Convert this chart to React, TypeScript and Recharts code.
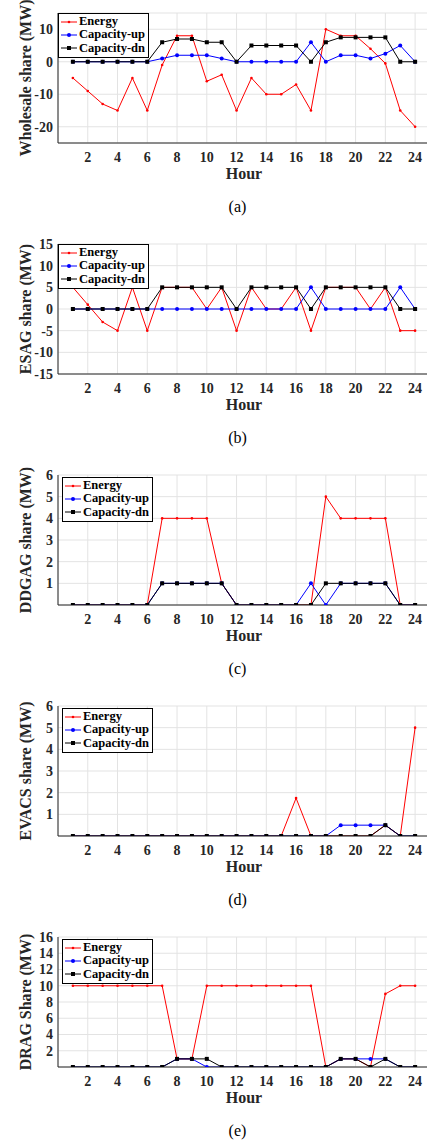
import { LineChart, Line, XAxis, YAxis, CartesianGrid, Legend } from 'recharts';

const hours = [1, 2, 3, 4, 5, 6, 7, 8, 9, 10, 11, 12, 13, 14, 15, 16, 17, 18, 19, 20, 21, 22, 23, 24];
const hourTicks = [2, 4, 6, 8, 10, 12, 14, 16, 18, 20, 22, 24];

// (a) wholesale
const wsEnergy = [-5, -9, -13, -15, -5, -15, -1, 8, 8, -6, -4, -15, -5, -10, -10, -7, -15, 10, 8, 8, 4, -0.5, -15, -20];
const wsUp = [0, 0, 0, 0, 0, 0, 1, 2, 2, 2, 1, 0, 0, 0, 0, 0, 6, 0, 2, 2, 1, 2.5, 5, 0];
const wsDn = [0, 0, 0, 0, 0, 0, 6, 7, 7, 6, 6, 0, 5, 5, 5, 5, 0, 6, 7.5, 7.5, 7.5, 7.5, 0, 0];

// (b) ESAG
const esEnergy = [5, 1, -3, -5, 5, -5, 5, 5, 5, 0, 5, -5, 5, 0, 0, 5, -5, 5, 5, 5, 0, 5, -5, -5];
const esUp = [0, 0, 0, 0, 0, 0, 0, 0, 0, 0, 0, 0, 0, 0, 0, 0, 5, 0, 0, 0, 0, 0, 5, 0];
const esDn = [0, 0, 0, 0, 0, 0, 5, 5, 5, 5, 5, 0, 5, 5, 5, 5, 0, 5, 5, 5, 5, 5, 0, 0];

// (c) DDGAG
const ddEnergy = [0, 0, 0, 0, 0, 0, 4, 4, 4, 4, 1, 0, 0, 0, 0, 0, 0, 5, 4, 4, 4, 4, 0, 0];
const ddUp = [0, 0, 0, 0, 0, 0, 1, 1, 1, 1, 1, 0, 0, 0, 0, 0, 1, 0, 1, 1, 1, 1, 0, 0];
const ddDn = [0, 0, 0, 0, 0, 0, 1, 1, 1, 1, 1, 0, 0, 0, 0, 0, 0, 1, 1, 1, 1, 1, 0, 0];

// (d) EVACS
const evEnergy = [0, 0, 0, 0, 0, 0, 0, 0, 0, 0, 0, 0, 0, 0, 0, 1.75, 0, 0, 0, 0, 0, 0.5, 0, 5];
const evUp = [0, 0, 0, 0, 0, 0, 0, 0, 0, 0, 0, 0, 0, 0, 0, 0, 0, 0, 0.5, 0.5, 0.5, 0.5, 0, 0];
const evDn = [0, 0, 0, 0, 0, 0, 0, 0, 0, 0, 0, 0, 0, 0, 0, 0, 0, 0, 0, 0, 0, 0.5, 0, 0];

// (e) DRAG
const drEnergy = [10, 10, 10, 10, 10, 10, 10, 1, 1, 10, 10, 10, 10, 10, 10, 10, 10, 0, 1, 1, 0, 9, 10, 10];
const drUp = [0, 0, 0, 0, 0, 0, 0, 1, 1, 0, 0, 0, 0, 0, 0, 0, 0, 0, 1, 1, 1, 1, 0, 0];
const drDn = [0, 0, 0, 0, 0, 0, 0, 1, 1, 1, 0, 0, 0, 0, 0, 0, 0, 0, 1, 1, 0, 1, 0, 0];

const FONT = '"Liberation Serif", "Times New Roman", serif';
const AXIS = '#262626';

const rows = (e: number[], u: number[], d: number[]) =>
  hours.map((h, i) => ({ hour: h, energy: e[i], up: u[i], dn: d[i] }));

const SquareDot = (props: any) => {
  const { cx, cy, index } = props;
  if (cx == null || cy == null) return <g key={`sq-${index}`} />;
  return <rect key={`sq-${index}`} x={cx - 2} y={cy - 2} width={4} height={4} fill="#000" />;
};

const legendItems = [
  { name: 'Energy', color: '#ff0000', kind: 'dot' },
  { name: 'Capacity-up', color: '#0000ff', kind: 'circle' },
  { name: 'Capacity-dn', color: '#000000', kind: 'square' },
];

const LegendBox = () => (
  <div
    style={{
      border: '1px solid #000',
      background: '#fff',
      padding: '1px 3px 2px 1px',
      fontFamily: FONT,
      fontWeight: 'bold',
      fontSize: 12.5,
      lineHeight: '13.3px',
      color: '#000',
      whiteSpace: 'nowrap',
    }}
  >
    {legendItems.map((it) => (
      <div key={it.name} style={{ display: 'flex', alignItems: 'center' }}>
        <svg width={18} height={8} style={{ marginRight: 1 }}>
          <line x1={1} y1={4} x2={17} y2={4} stroke={it.color} strokeWidth={1} />
          {it.kind === 'dot' && <circle cx={9} cy={4} r={1.3} fill={it.color} />}
          {it.kind === 'circle' && <circle cx={9} cy={4} r={2} fill={it.color} />}
          {it.kind === 'square' && <rect x={7} y={2} width={4} height={4} fill={it.color} />}
        </svg>
        <span>{it.name}</span>
      </div>
    ))}
  </div>
);

type PanelProps = {
  index: number;
  energy: number[];
  up: number[];
  dn: number[];
  ylabel: string;
  yDomain: [number, number];
  yTicks: number[];
  caption: string;
  inset: number;
};

const Panel = ({ index, energy, up, dn, ylabel, yDomain, yTicks, caption, inset }: PanelProps) => (
  <div style={{ position: 'absolute', left: 0, top: 231 * index, width: 430, height: 231 }}>
    <LineChart
      width={430}
      height={193}
      data={rows(energy, up, dn)}
      margin={{ top: 13, right: 0, bottom: 0, left: 8 }}
    >
      <CartesianGrid stroke="#e3e3e3" strokeWidth={1} />
      <XAxis
        dataKey="hour"
        type="number"
        domain={[0, 25]}
        ticks={hourTicks}
        interval={0}
        allowDataOverflow
        height={50}
        tickSize={0}
        tickMargin={9}
        stroke={AXIS}
        tick={{ fill: AXIS, fontFamily: FONT, fontWeight: 'bold', fontSize: 14 }}
        label={{
          value: 'Hour',
          position: 'insideBottom',
          offset: 14,
          fill: AXIS,
          fontFamily: FONT,
          fontWeight: 'bold',
          fontSize: 16,
        }}
      />
      <XAxis
        xAxisId="top"
        orientation="top"
        dataKey="hour"
        type="number"
        domain={[0, 25]}
        ticks={hourTicks}
        interval={0}
        height={0}
        mirror
        tickSize={3}
        stroke={AXIS}
        tickFormatter={() => ''}
      />
      <YAxis
        width={50}
        domain={yDomain}
        ticks={yTicks}
        interval={0}
        allowDataOverflow
        tickSize={0}
        tickMargin={5}
        stroke={AXIS}
        tick={{ fill: AXIS, fontFamily: FONT, fontWeight: 'bold', fontSize: 14 }}
        label={{
          value: ylabel,
          angle: -90,
          position: 'center',
          dx: -8,
          fill: AXIS,
          fontFamily: FONT,
          fontWeight: 'bold',
          fontSize: 16,
        }}
      />
      <Legend
        layout="horizontal"
        verticalAlign="middle"
        align="center"
        wrapperStyle={{ top: 13 + inset / 2, left: 58 + inset, width: 'auto', height: 'auto' }}
        content={() => <LegendBox />}
      />
      <Line
        dataKey="energy"
        name="Energy"
        stroke="#ff0000"
        strokeWidth={1}
        dot={{ r: 1.3, fill: '#ff0000', stroke: '#ff0000', strokeWidth: 0 }}
        isAnimationActive={false}
      />
      <Line
        dataKey="up"
        name="Capacity-up"
        stroke="#0000ff"
        strokeWidth={1}
        dot={{ r: 2, fill: '#0000ff', stroke: '#0000ff', strokeWidth: 0 }}
        isAnimationActive={false}
      />
      <Line
        dataKey="dn"
        name="Capacity-dn"
        stroke="#000000"
        strokeWidth={1}
        dot={SquareDot}
        isAnimationActive={false}
      />
    </LineChart>
    <div
      style={{
        height: 28,
        lineHeight: '28px',
        marginLeft: 52,
        width: 371,
        textAlign: 'center',
        fontFamily: FONT,
        fontSize: 16,
        color: '#000',
      }}
    >
      {caption}
    </div>
  </div>
);

export default function App() {
  return (
    <div style={{ position: 'relative', width: 427, height: 1146 }}>
      <style>{'body{margin:0;overflow:hidden}'}</style>
      <Panel index={0} energy={wsEnergy} up={wsUp} dn={wsDn} ylabel="Wholesale share (MW)"
        yDomain={[-25, 15]} yTicks={[-20, -10, 0, 10]} caption="(a)" inset={0} />
      <Panel index={1} energy={esEnergy} up={esUp} dn={esDn} ylabel="ESAG share (MW)"
        yDomain={[-15, 15]} yTicks={[-15, -10, -5, 0, 5, 10, 15]} caption="(b)" inset={0} />
      <Panel index={2} energy={ddEnergy} up={ddUp} dn={ddDn} ylabel="DDGAG share (MW)"
        yDomain={[0, 6]} yTicks={[1, 2, 3, 4, 5, 6]} caption="(c)" inset={4} />
      <Panel index={3} energy={evEnergy} up={evUp} dn={evDn} ylabel="EVACS share (MW)"
        yDomain={[0, 6]} yTicks={[1, 2, 3, 4, 5, 6]} caption="(d)" inset={4} />
      <Panel index={4} energy={drEnergy} up={drUp} dn={drDn} ylabel="DRAG Share (MW)"
        yDomain={[0, 16]} yTicks={[2, 4, 6, 8, 10, 12, 14, 16]} caption="(e)" inset={4} />
    </div>
  );
}
